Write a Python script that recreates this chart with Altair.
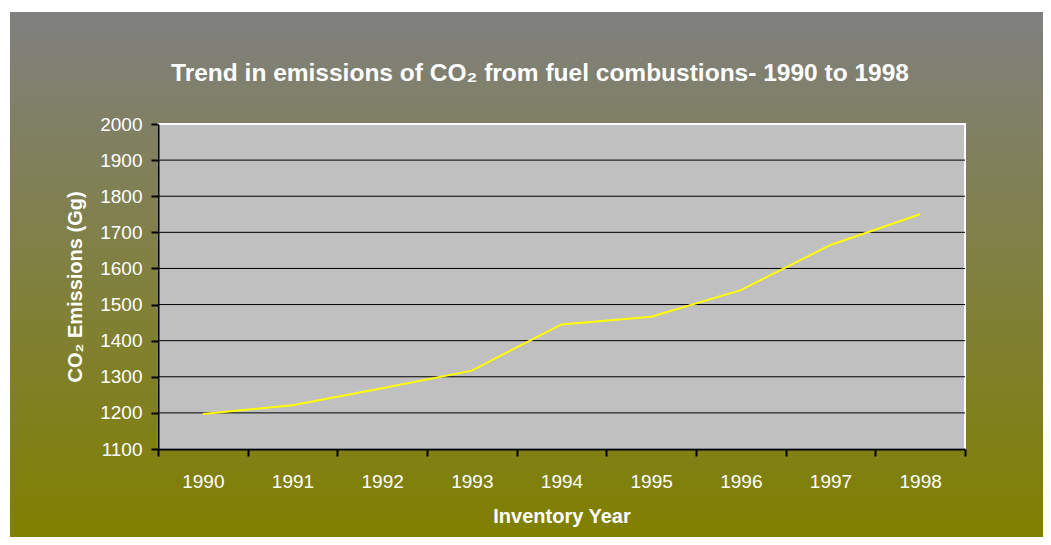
import altair as alt
import pandas as pd

# ---- data ----
years = [1990, 1991, 1992, 1993, 1994, 1995, 1996, 1997, 1998]
co2_gg = [1197, 1221, 1268, 1317, 1445, 1466, 1540, 1665, 1750]
y_ticks = [1100, 1200, 1300, 1400, 1500, 1600, 1700, 1800, 1900, 2000]
x_bounds = [1989.5, 1990.5, 1991.5, 1992.5, 1993.5, 1994.5, 1995.5, 1996.5, 1997.5, 1998.5]

title_text = "Trend in emissions of CO\u2082 from fuel combustions- 1990 to 1998"
y_title = "CO\u2082 Emissions (Gg)"
x_title = "Inventory Year"

W, H = 807, 325
FONT = "Liberation Sans"

df = pd.DataFrame({"year": years, "co2": co2_gg})
grid_df = pd.DataFrame({"co2": y_ticks[1:-1]})
one = pd.DataFrame({"k": [0]})

x_scale = alt.Scale(domain=[x_bounds[0], x_bounds[-1]], nice=False, zero=False)
y_scale = alt.Scale(domain=[y_ticks[0], y_ticks[-1]], nice=False, zero=False)

x_axis = alt.Axis(
    values=x_bounds,
    labelExpr="datum.value > 1998 ? '' : format(datum.value + 0.5, 'd')",
    labelOffset=W / 18,
    labelFlush=False,
    labelOverlap=False,
    labelColor="white",
    labelFont=FONT,
    labelFontSize=19,
    labelBaseline="alphabetic",
    labelPadding=31,
    tickSize=7,
    tickWidth=2,
    tickColor="black",
    domainColor="black",
    domainWidth=2,
    grid=False,
    title=x_title,
    titleFont=FONT,
    titleFontSize=20,
    titleFontWeight="bold",
    titleColor="white",
    titleX=W / 2,
    titleY=73,
    titleAlign="center",
    titleBaseline="alphabetic",
    zindex=1,
)

y_axis = alt.Axis(
    values=y_ticks,
    format="d",
    labelColor="white",
    labelFont=FONT,
    labelFontSize=19,
    labelPadding=9,
    tickSize=7,
    tickWidth=2,
    tickColor="black",
    domainColor="black",
    domainWidth=2,
    grid=False,
    title=y_title,
    titleFont=FONT,
    titleFontSize=20,
    titleFontWeight="bold",
    titleColor="white",
    titleX=-83,
    titleY=H / 2,
    titleAngle=270,
    titleAlign="center",
    titleBaseline="middle",
    zindex=1,
)

gradient = alt.LinearGradient(
    gradient="linear",
    stops=[alt.GradientStop(color="#808080", offset=0),
           alt.GradientStop(color="#808000", offset=1)],
    x1=0, x2=0, y1=0, y2=1,
)

background = alt.Chart(one).mark_rect(color=gradient).encode(
    x=alt.value(-148), x2=alt.value(W + 78), y=alt.value(-112), y2=alt.value(H + 88)
)

plot_bg = alt.Chart(one).mark_rect(fill="#C0C0C0", stroke="white", strokeWidth=2).encode(
    x=alt.value(0), x2=alt.value(W), y=alt.value(0), y2=alt.value(H)
)

grid = alt.Chart(grid_df).mark_rule(color="black", strokeWidth=1).encode(
    y=alt.Y("co2:Q", scale=y_scale, axis=y_axis)
)

line = alt.Chart(df).mark_line(color="#FFFF00", strokeWidth=2).encode(
    x=alt.X("year:Q", scale=x_scale, axis=x_axis),
    y=alt.Y("co2:Q", scale=y_scale, axis=y_axis),
)

title = alt.Chart(one).mark_text(
    text=title_text, font=FONT, fontSize=24.5, fontWeight="bold", color="white",
    align="center", baseline="alphabetic",
).encode(x=alt.value(382), y=alt.value(-43))

chart = alt.layer(background, plot_bg, grid, line, title).properties(
    width=W,
    height=H,
    padding={"left": 150, "top": 116, "right": 78, "bottom": 88},
    autosize=alt.AutoSizeParams(type="none"),
    background="white",
).configure_view(stroke=None)

chart.save("out.html", embed_options={"renderer": "svg", "actions": False})
